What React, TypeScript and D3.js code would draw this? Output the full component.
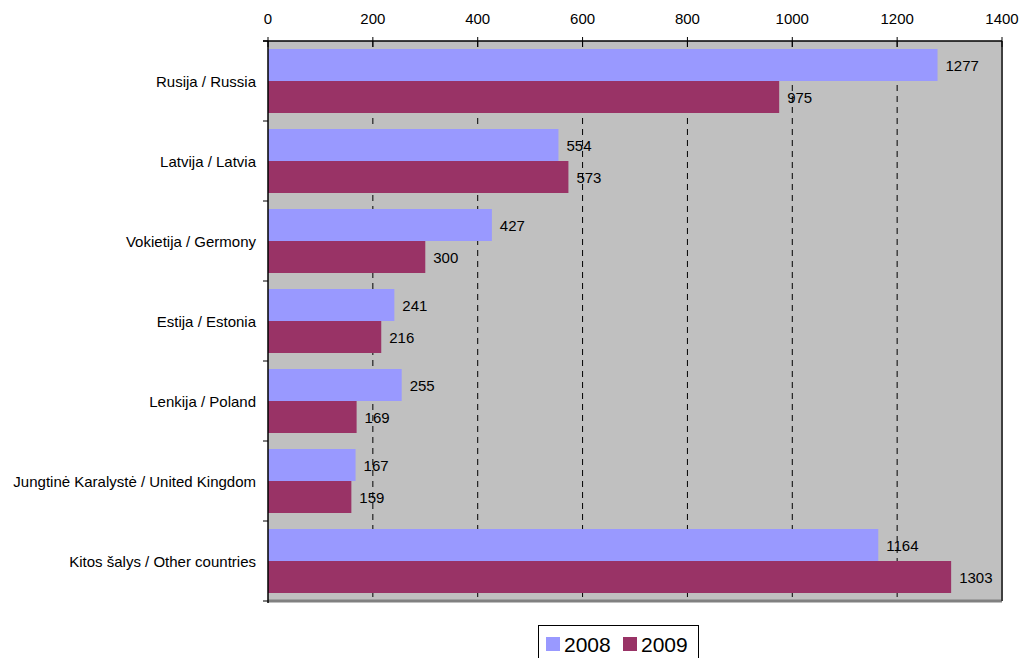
import React from "react";
import * as d3 from "d3";

const categories = [
  "Rusija / Russia",
  "Latvija / Latvia",
  "Vokietija / Germony",
  "Estija / Estonia",
  "Lenkija / Poland",
  "Jungtinė Karalystė / United Kingdom",
  "Kitos šalys / Other countries",
];
const series2008 = [1277, 554, 427, 241, 255, 167, 1164];
const series2009 = [975, 573, 300, 216, 169, 159, 1303];
const seriesNames = ["2008", "2009"];
const colors = ["#9999FF", "#993366"];
const xTicks = [0, 200, 400, 600, 800, 1000, 1200, 1400];

export default function App() {
  const W = 1025, H = 658;
  const left = 268, right = 1002, top = 41, bottom = 601;
  const x = d3.scaleLinear().domain([0, 1400]).range([left, right]);
  const y = d3.scaleBand<string>().domain(categories).range([top, bottom]).paddingInner(0).paddingOuter(0);
  const bw = y.bandwidth();
  const pad = bw * 0.1;
  const bh = (bw - 2 * pad) / 2;
  const font = "Arial, 'Liberation Sans', sans-serif";
  const series = [series2008, series2009];
  const fs = 15;

  return (
    <svg width={W} height={H} style={{ position: "absolute", left: 0, top: 0 }} fontFamily={font}>
      <rect x={left} y={top} width={right - left} height={bottom - top} fill="#C0C0C0" />
      {xTicks.slice(1, -1).map((t) => (
        <line key={t} x1={x(t)} x2={x(t)} y1={top} y2={bottom} stroke="#000" strokeWidth={1} strokeDasharray="6,5" />
      ))}
      {categories.map((c, i) =>
        series.map((s, j) => (
          <rect key={c + j} x={x(0)} y={(y(c) as number) + pad + j * bh} width={x(s[i]) - x(0)} height={bh} fill={colors[j]} />
        ))
      )}
      {categories.map((c, i) =>
        series.map((s, j) => (
          <text key={"l" + c + j} x={x(s[i]) + 8} y={(y(c) as number) + pad + j * bh + bh / 2} dominantBaseline="central" fontSize={fs} fill="#000">
            {s[i]}
          </text>
        ))
      )}
      <line x1={left} x2={right} y1={bottom} y2={bottom} stroke="#808080" strokeWidth={3} />
      <line x1={right} x2={right} y1={top} y2={bottom} stroke="#404040" strokeWidth={2} />
      <line x1={left - 5} x2={right} y1={top} y2={top} stroke="#000" strokeWidth={1.5} />
      <line x1={left} x2={left} y1={top} y2={bottom + 2} stroke="#000" strokeWidth={1.5} />
      {xTicks.map((t) => (
        <g key={"t" + t}>
          <line x1={x(t)} x2={x(t)} y1={top - 4} y2={top + 6} stroke="#000" strokeWidth={1} />
          <text x={x(t)} y={18} textAnchor="middle" dominantBaseline="central" fontSize={fs} fill="#000">{t}</text>
        </g>
      ))}
      {d3.range(categories.length + 1).map((i) => (
        <line key={"yt" + i} x1={left - 5} x2={left} y1={top + i * bw} y2={top + i * bw} stroke="#000" strokeWidth={1} />
      ))}
      {categories.map((c) => (
        <text key={"c" + c} x={256} y={(y(c) as number) + bw / 2} textAnchor="end" dominantBaseline="central" fontSize={fs} fill="#000">{c}</text>
      ))}
      <rect x={538.5} y={625.5} width={160} height={40} fill="#fff" stroke="#000" strokeWidth={1} />
      {seriesNames.map((n, j) => (
        <g key={n}>
          <rect x={546 + j * 77} y={637} width={14} height={14} fill={colors[j]} />
          <text x={564 + j * 77} y={644} dominantBaseline="central" fontSize={21} fill="#000">{n}</text>
        </g>
      ))}
    </svg>
  );
}
